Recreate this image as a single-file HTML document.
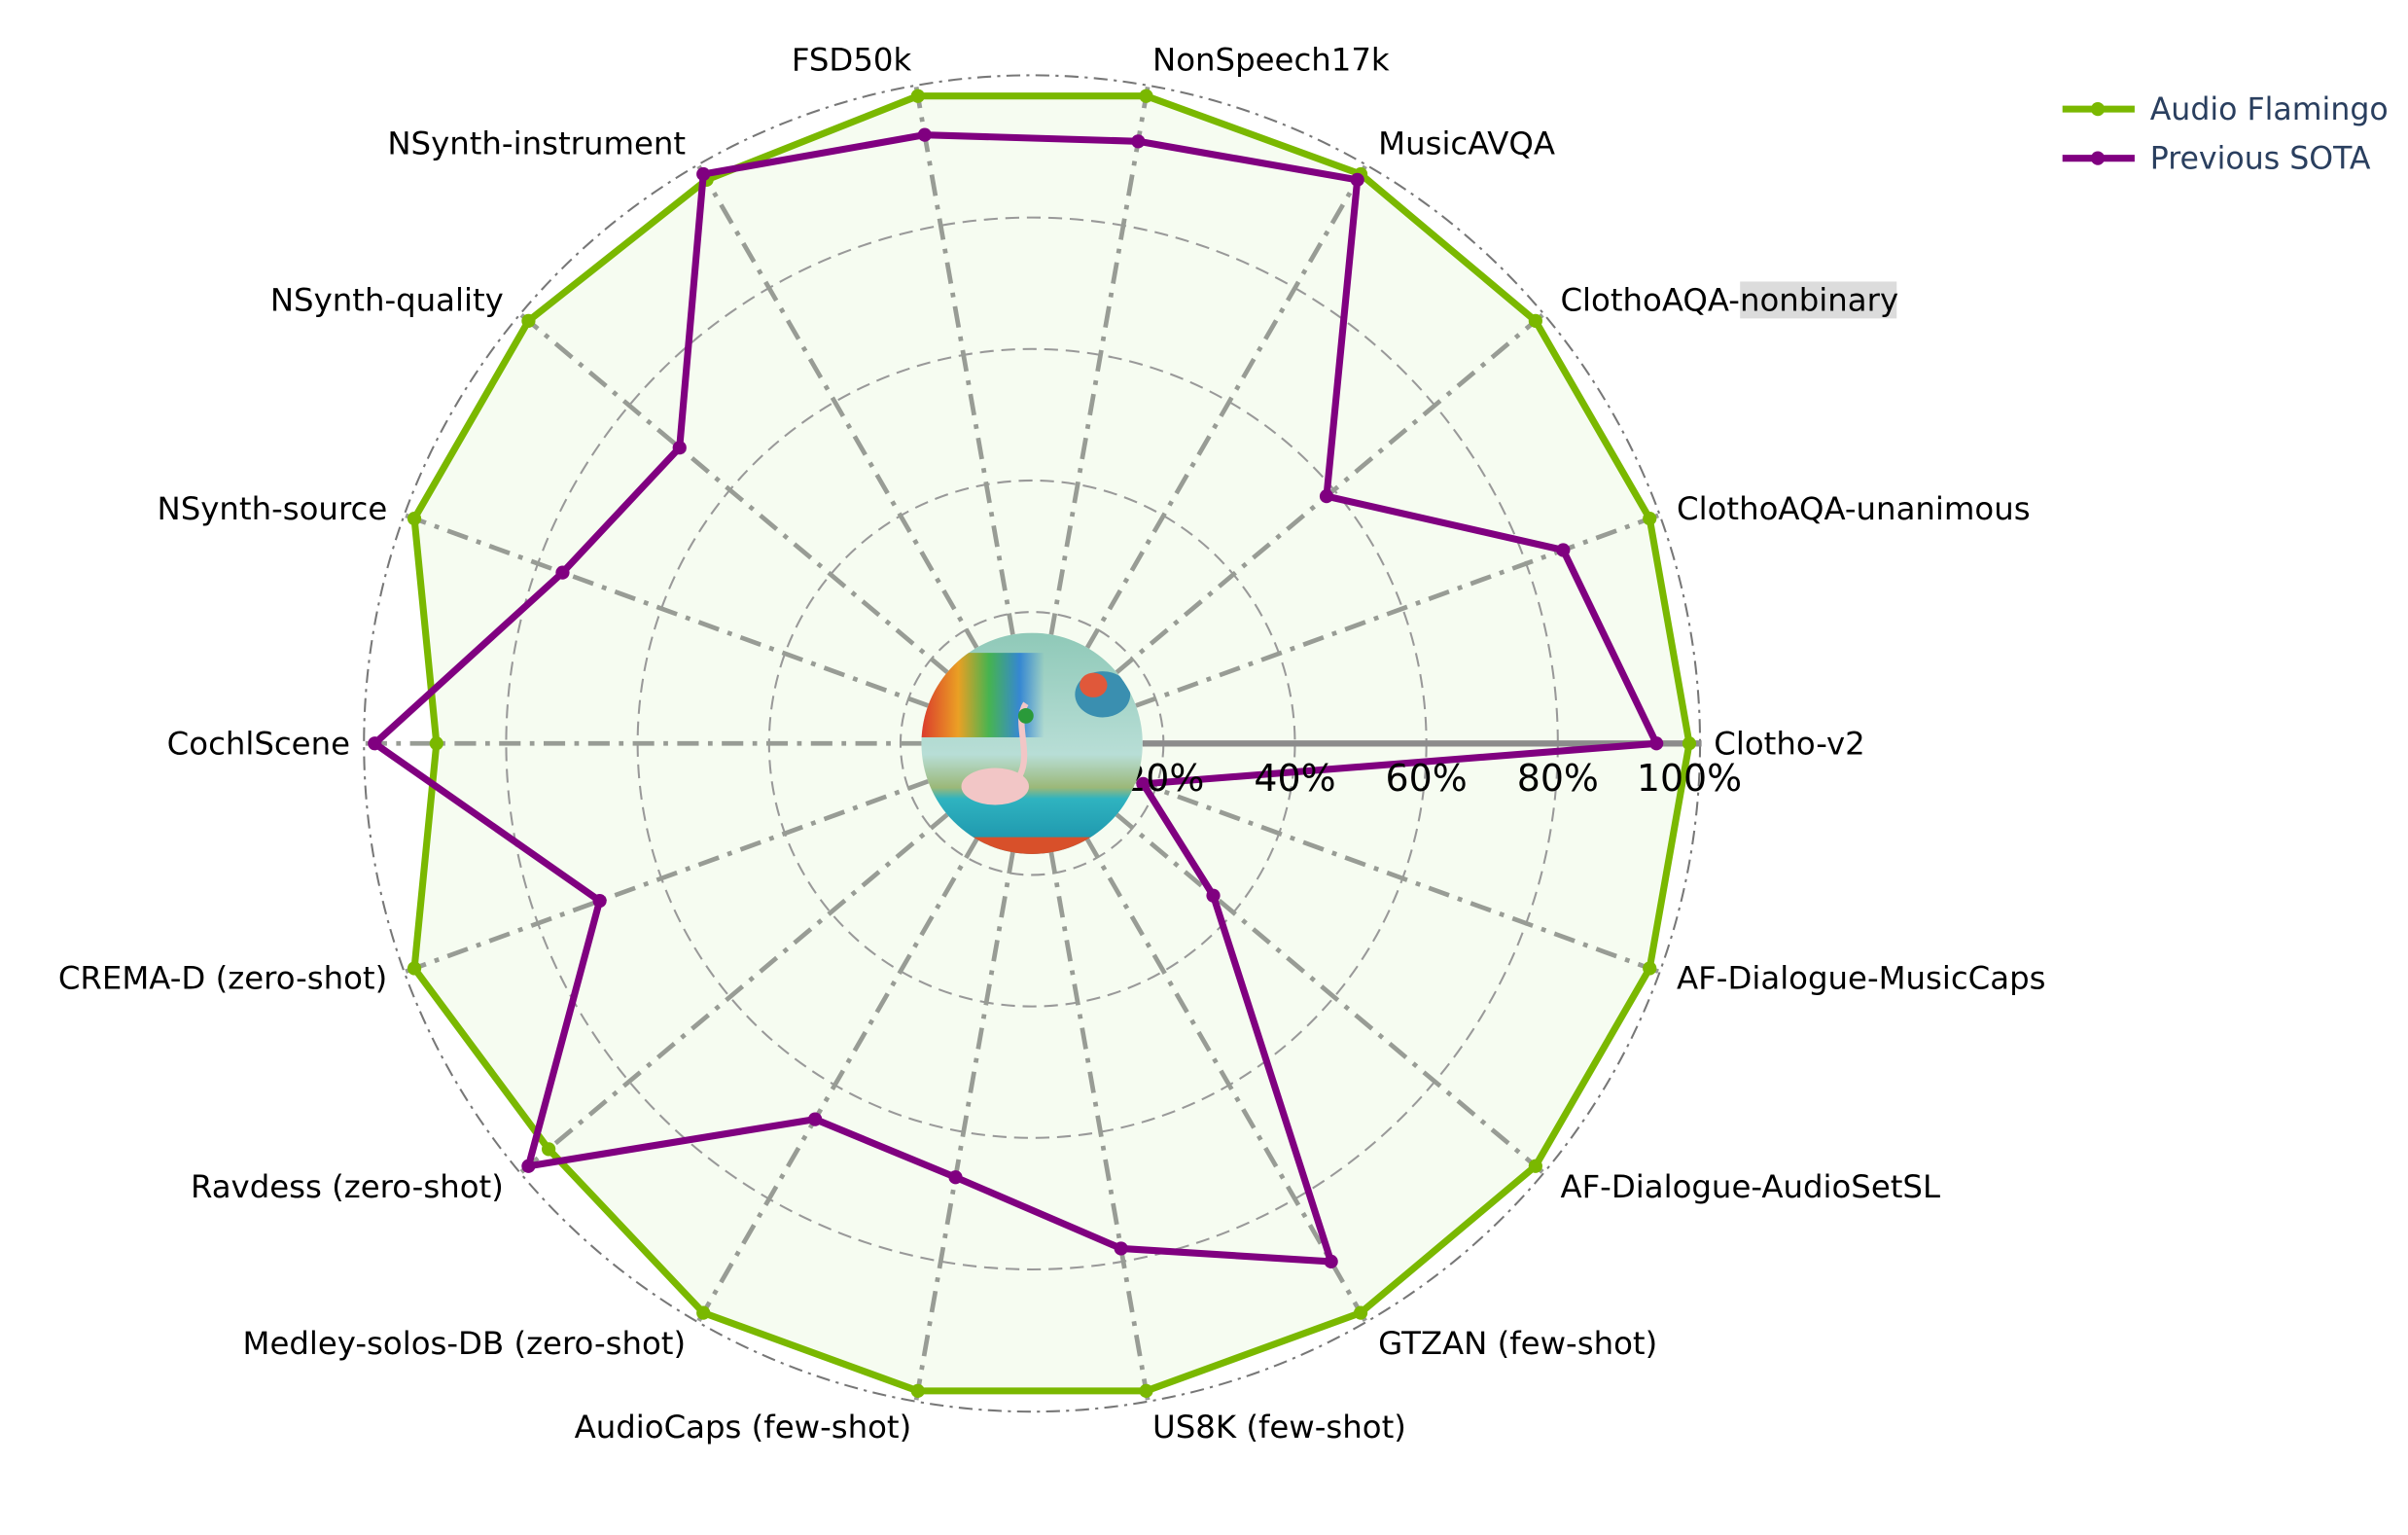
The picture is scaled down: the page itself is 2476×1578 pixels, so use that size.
<!DOCTYPE html>
<html><head><meta charset="utf-8"><style>
html,body{margin:0;padding:0;background:#fff;}
svg{display:block;}
text{font-family:"DejaVu Sans","Liberation Sans",sans-serif;}
</style></head><body>
<svg id="chart" width="2476" height="1578" viewBox="0 0 1568 999.3" xmlns="http://www.w3.org/2000/svg">
<defs>
<clipPath id="holeClip"><circle cx="672" cy="484" r="72"/></clipPath>
<linearGradient id="sky" x1="0" y1="0" x2="0" y2="1">
<stop offset="0" stop-color="#8fc9b8"/><stop offset="0.55" stop-color="#b8ded6"/><stop offset="0.7" stop-color="#9bb878"/><stop offset="0.75" stop-color="#2fb3c0"/><stop offset="1" stop-color="#1a8fa8"/>
</linearGradient>
<linearGradient id="rainbow" x1="0" y1="0" x2="1" y2="0">
<stop offset="0" stop-color="#e02a1a"/><stop offset="0.3" stop-color="#f29a12"/><stop offset="0.55" stop-color="#3cb043"/><stop offset="0.8" stop-color="#2a7fd4"/><stop offset="1" stop-color="#2a7fd4" stop-opacity="0"/>
</linearGradient>
</defs>
<g id="grid"></g>
<g id="series"></g>
<g id="labels"></g>
<g id="ticks"></g>
<g clip-path="url(#holeClip)">
<rect x="600" y="412" width="144" height="144" fill="url(#sky)"/>
<rect x="600" y="425" width="80" height="55" fill="url(#rainbow)" opacity="0.9"/>
<ellipse cx="718" cy="452" rx="18" ry="15" fill="#3a8fb0"/>
<ellipse cx="712" cy="446" rx="9" ry="8" fill="#e0583a"/>
<ellipse cx="648" cy="512" rx="22" ry="12" fill="#f2c6c6"/>
<path d="M664,505 C672,490 660,470 668,458" stroke="#f2c6c6" stroke-width="4" fill="none"/>
<circle cx="668" cy="466" r="5" fill="#2a9a3a"/>
<rect x="600" y="545" width="144" height="12" fill="#d8502a"/>
</g>
<g>
<g>
<line x1="1343" y1="71" x2="1390" y2="71" stroke="#7ab800" stroke-width="4.5"/><circle cx="1366" cy="71" r="4.5" fill="#7ab800"/>
<text x="1400" y="78" font-size="20" fill="#2a3f5f">Audio Flamingo</text></g>
<g>
<line x1="1343" y1="103" x2="1390" y2="103" stroke="#800080" stroke-width="4.5"/><circle cx="1366" cy="103" r="4.5" fill="#800080"/>
<text x="1400" y="110" font-size="20" fill="#2a3f5f">Previous SOTA</text></g>
</g>
</svg>
<script>
const categories = ["Clotho-v2","ClothoAQA-unanimous","ClothoAQA-nonbinary","MusicAVQA","NonSpeech17k","FSD50k","NSynth-instrument","NSynth-quality","NSynth-source","CochlScene","CREMA-D (zero-shot)","Ravdess (zero-shot)","Medley-solos-DB (zero-shot)","AudioCaps (few-shot)","US8K (few-shot)","GTZAN (few-shot)","AF-Dialogue-AudioSetSL","AF-Dialogue-MusicCaps"];
const audioFlamingo = [1.0,1.0,1.0,1.0,1.0,1.0,0.99,1.0,1.0,0.906,1.0,0.96,1.0,1.0,1.0,1.0,1.0,1.0];
const previousSota = [0.95,0.86,0.585,0.99,0.93,0.94,1.0,0.70,0.76,1.0,0.70,1.0,0.66,0.67,0.78,0.91,0.36,0.18];
const tickValues = [0.2,0.4,0.6,0.8,1.0];
const tickLabels = ["20%","40%","60%","80%","100%"];
const NS="http://www.w3.org/2000/svg";
const cx=672, cy=484, R100=428, ROUT=435, HOLE=72;
function rScale(v){return v*R100;}
function angleOf(i){return i*2*Math.PI/categories.length;}
function pt(i,v){const a=angleOf(i), r=rScale(v);return [cx+r*Math.cos(a), cy-r*Math.sin(a)];}
function mk(tag,attrs,parent){const e=document.createElementNS(NS,tag);for(const k in attrs)e.setAttribute(k,attrs[k]);parent.appendChild(e);return e;}
const grid=document.getElementById('grid');
const bg=mk('circle',{cx:cx,cy:cy,r:ROUT,fill:'#ffffff'},grid);


const fillPts=categories.map((c,i)=>pt(i,audioFlamingo[i]).join(',')).join(' ');
const fp=mk('polygon',{points:fillPts,fill:'#f6fcf1'},grid);


tickValues.forEach((t,k)=>{
  if(t>=1) return;
  const c=mk('circle',{cx:cx,cy:cy,r:rScale(t),fill:'none',stroke:'#999',"stroke-width":1.3,"stroke-dasharray":"9,5"},grid);
  
  
});
const oc=mk('circle',{cx:cx,cy:cy,r:ROUT,fill:'none',stroke:'#777',"stroke-width":1.3,"stroke-dasharray":"9,4,2,4"},grid);


categories.forEach((c,i)=>{
  const a=angleOf(i);
  const x1=cx+HOLE*Math.cos(a), y1=cy-HOLE*Math.sin(a), x2=cx+ROUT*Math.cos(a), y2=cy-ROUT*Math.sin(a);
  const l=mk('line',{x1:x1,y1:y1,x2:x2,y2:y2,stroke:'#989c95',"stroke-width":3,"stroke-dasharray":"14,6,3,6"},grid);
  
  
});
const ax=mk('line',{x1:cx+HOLE,y1:cy,x2:cx+R100+8,y2:cy,stroke:'#8c8c8c',"stroke-width":4},grid);


const series=document.getElementById('series');
function drawSeries(vals,color,name){
  const g=mk('g',{},series);
  
  
  const pts=vals.map((v,i)=>pt(i,v));
  const pl=mk('polygon',{points:pts.map(p=>p.join(',')).join(' '),fill:'none',stroke:color,"stroke-width":4.5,"stroke-linejoin":"round"},g);
  
  
  pts.forEach((p,i)=>{
    const c=mk('circle',{cx:p[0],cy:p[1],r:4.5,fill:color},g);
    
    
  });
}
drawSeries(audioFlamingo,'#7ab800','audio-flamingo');
drawSeries(previousSota,'#800080','previous-sota');
const labels=document.getElementById('labels');
categories.forEach((c,i)=>{
  const a=angleOf(i), s=Math.sin(a), co=Math.cos(a);
  const r=444+8*Math.abs(s);
  let x=cx+r*co, y=cy-r*s;
  const anchor=Math.abs(co)<1e-6?'middle':(co>0?'start':'end');
  if(c==="ClothoAQA-nonbinary"){
    const hl=mk('rect',{x:x+117,y:y-12,width:102,height:24,fill:'#dcdcdc'},labels);
    
    
  }
  const t=mk('text',{x:x,y:y+7,"font-size":20.5,"text-anchor":anchor,fill:'#000'},labels);
  t.textContent=c;
  
  
});
const ticks=document.getElementById('ticks');
tickValues.forEach((t,k)=>{
  const tx=mk('text',{x:cx+rScale(t),y:cy+31,"font-size":24,"text-anchor":"middle",fill:'#000'},ticks);
  tx.textContent=tickLabels[k];
  
  
});
</script>
</body></html>
